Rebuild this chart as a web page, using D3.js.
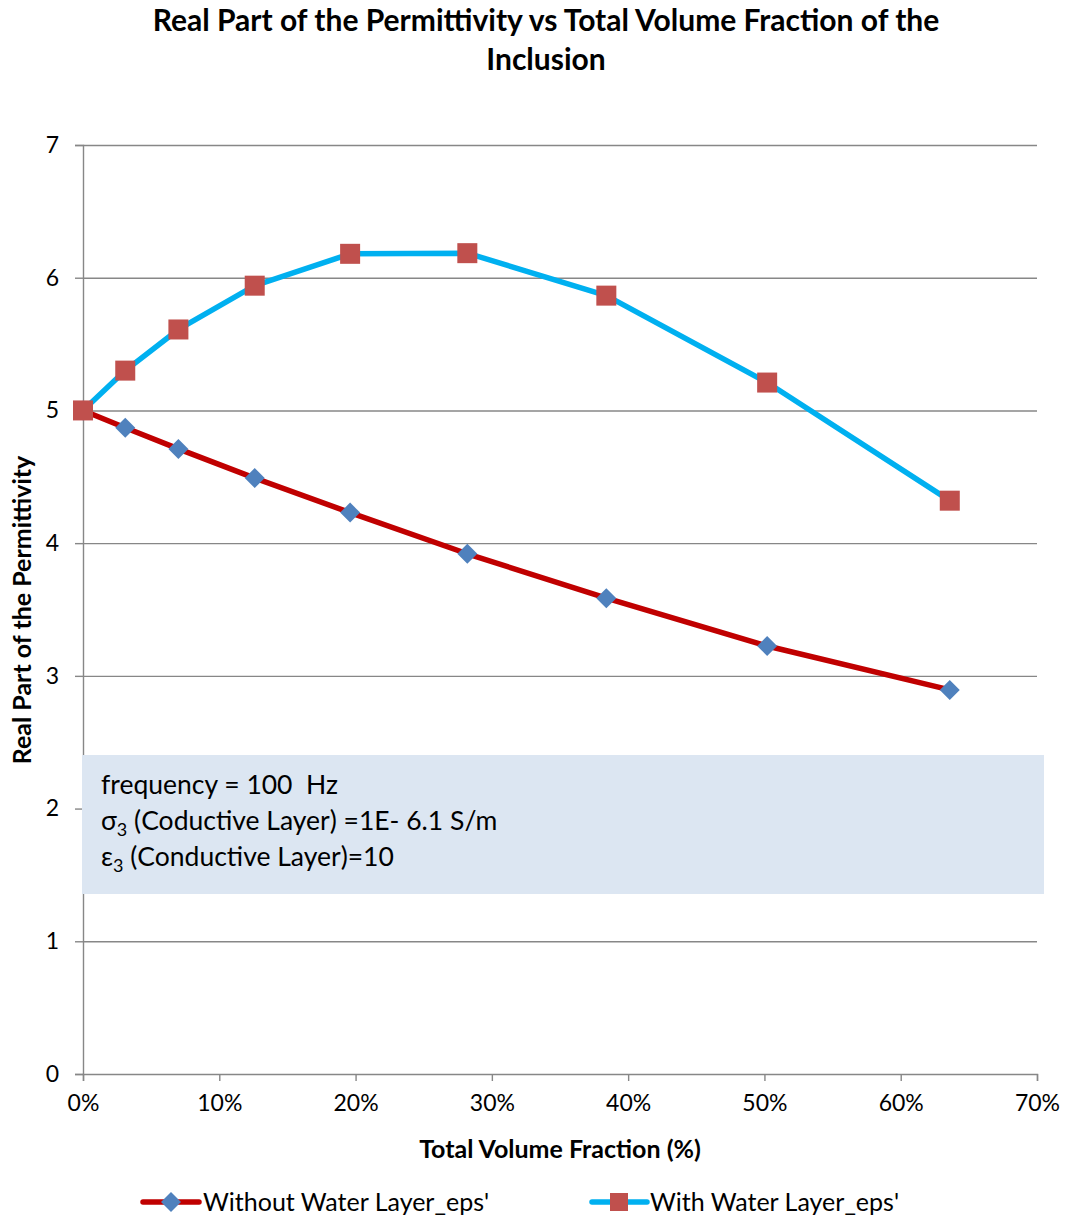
<!DOCTYPE html>
<html>
<head>
<meta charset="utf-8">
<script src="https://cdn.jsdelivr.net/npm/d3@7"></script>
<style>
  html, body { margin: 0; padding: 0; background: #fff; }
  svg { display: block; font-family: Lato, "Open Sans", sans-serif; }
  .pre { white-space: pre; }
</style>
</head>
<body>
<svg id="chart" width="1065" height="1219"></svg>
<script>
// ---- data ----
const volumeFraction = [0, 0.031, 0.070, 0.126, 0.196, 0.282, 0.384, 0.502, 0.636];
const withoutWaterEps = [5.00, 4.87, 4.71, 4.49, 4.23, 3.92, 3.585, 3.225, 2.894];
const withWaterEps = [5.00, 5.30, 5.61, 5.94, 6.18, 6.185, 5.865, 5.21, 4.32];
const xTicks = [0, 0.1, 0.2, 0.3, 0.4, 0.5, 0.6, 0.7];
const yTicks = [0, 1, 2, 3, 4, 5, 6, 7];
const seriesNames = ["Without Water Layer_eps'", "With Water Layer_eps'"];
const titleLines = ["Real Part of the Permittivity vs Total Volume Fraction of the", "Inclusion"];
const xTitle = "Total Volume Fraction (%)";
const yTitle = "Real Part of the Permittivity";

// ---- layout ----
const svg = d3.select("#chart");
const L = 83, R = 1037, T = 145, B = 1074;
const x = d3.scaleLinear().domain([0, 0.7]).range([L, R]);
const y = d3.scaleLinear().domain([0, 7]).range([B, T]);
const gridColor = "#878787";

// title
svg.append("g").selectAll("text").data(titleLines).join("text")
  .attr("x", 546).attr("y", (d, i) => 31 + i * 39)
  .attr("text-anchor", "middle")
  .attr("font-weight", "bold").attr("font-size", 30).attr("fill", "#000")
  .text(d => d);

// gridlines
const grid = svg.append("g").attr("transform", `translate(${L},0)`)
  .call(d3.axisLeft(y).tickValues(yTicks.filter(v => v > 0)).tickSize(-(R - L)).tickFormat(""));
grid.select(".domain").remove();
grid.selectAll("line").attr("stroke", gridColor).attr("stroke-width", 1.4);

// y axis
const yAxis = svg.append("g").attr("transform", `translate(${L},0)`)
  .call(d3.axisLeft(y).tickValues(yTicks).tickSize(8).tickPadding(16).tickFormat(d3.format("d")));
yAxis.select(".domain").attr("stroke", gridColor).attr("stroke-width", 1.4);
yAxis.selectAll("line").attr("stroke", gridColor).attr("stroke-width", 1.4);
yAxis.selectAll("text").attr("font-size", 23).attr("fill", "#000").attr("font-family", "Lato, sans-serif");

// x axis
const xAxis = svg.append("g").attr("transform", `translate(0,${B})`)
  .call(d3.axisBottom(x).tickValues(xTicks).tickSize(7).tickPadding(14).tickFormat(d3.format(".0%")));
xAxis.select(".domain").attr("stroke", gridColor).attr("stroke-width", 1.4);
xAxis.selectAll("line").attr("stroke", gridColor).attr("stroke-width", 1.4);
xAxis.selectAll("text").attr("font-size", 23).attr("fill", "#000").attr("font-family", "Lato, sans-serif");

// axis titles
svg.append("text").attr("x", 560).attr("y", 1158).attr("text-anchor", "middle")
  .attr("font-weight", "bold").attr("font-size", 25).text(xTitle);
svg.append("text").attr("transform", "translate(31,610) rotate(-90)").attr("text-anchor", "middle")
  .attr("font-weight", "bold").attr("font-size", 25).text(yTitle);

// annotation box
svg.append("rect").attr("x", 82).attr("y", 755).attr("width", 962).attr("height", 139).attr("fill", "#dce6f2");
const ann = svg.append("g").attr("font-size", 26.5).attr("fill", "#000");
ann.append("text").attr("class", "pre").attr("x", 101).attr("y", 794).text("frequency = 100  Hz");
const t2 = ann.append("text").attr("x", 101).attr("y", 830);
t2.append("tspan").text("σ");
t2.append("tspan").attr("font-size", 18).attr("dy", 6).text("3");
t2.append("tspan").attr("dy", -6).text(" (Coductive Layer) =1E- 6.1 S/m");
const t3 = ann.append("text").attr("x", 101).attr("y", 866);
t3.append("tspan").text("ε");
t3.append("tspan").attr("font-size", 18).attr("dy", 6).text("3");
t3.append("tspan").attr("dy", -6).text(" (Conductive Layer)=10");

// series
const ptsA = volumeFraction.map((v, i) => [v, withoutWaterEps[i]]);
const ptsB = volumeFraction.map((v, i) => [v, withWaterEps[i]]);
const line = d3.line().x(d => x(d[0])).y(d => y(d[1]));

const diamond = d3.symbol().type(d3.symbolSquare).size(200);
function drawDiamond(g, cx, cy) {
  g.append("path").attr("d", diamond()).attr("fill", "#4f81bd")
    .attr("transform", `translate(${cx},${cy}) rotate(45)`);
}
function drawSquare(g, cx, cy) {
  g.append("rect").attr("x", cx - 10).attr("y", cy - 10).attr("width", 20).attr("height", 20)
    .attr("fill", "#c0504d");
}

const gA = svg.append("g");
gA.append("path").datum(ptsA).attr("d", line).attr("fill", "none")
  .attr("stroke", "#c00000").attr("stroke-width", 5.5).attr("stroke-linejoin", "round");
ptsA.forEach(p => drawDiamond(gA, x(p[0]), y(p[1])));

const gB = svg.append("g");
gB.append("path").datum(ptsB).attr("d", line).attr("fill", "none")
  .attr("stroke", "#00b0f0").attr("stroke-width", 5.5).attr("stroke-linejoin", "round");
ptsB.forEach(p => drawSquare(gB, x(p[0]), y(p[1])));

// legend
const leg = svg.append("g").attr("font-size", 25);
const ly = 1202;
leg.append("line").attr("x1", 143).attr("x2", 199).attr("y1", ly).attr("y2", ly)
  .attr("stroke", "#c00000").attr("stroke-width", 5.5).attr("stroke-linecap", "round");
drawDiamond(leg, 171, ly);
leg.append("text").attr("x", 203).attr("y", ly + 9).text(seriesNames[0]);
leg.append("line").attr("x1", 592).attr("x2", 647).attr("y1", ly).attr("y2", ly)
  .attr("stroke", "#00b0f0").attr("stroke-width", 5.5).attr("stroke-linecap", "round");
leg.append("rect").attr("x", 610).attr("y", ly - 9).attr("width", 18).attr("height", 18).attr("fill", "#c0504d");
leg.append("text").attr("x", 650).attr("y", ly + 9).text(seriesNames[1]);
</script>
</body>
</html>
